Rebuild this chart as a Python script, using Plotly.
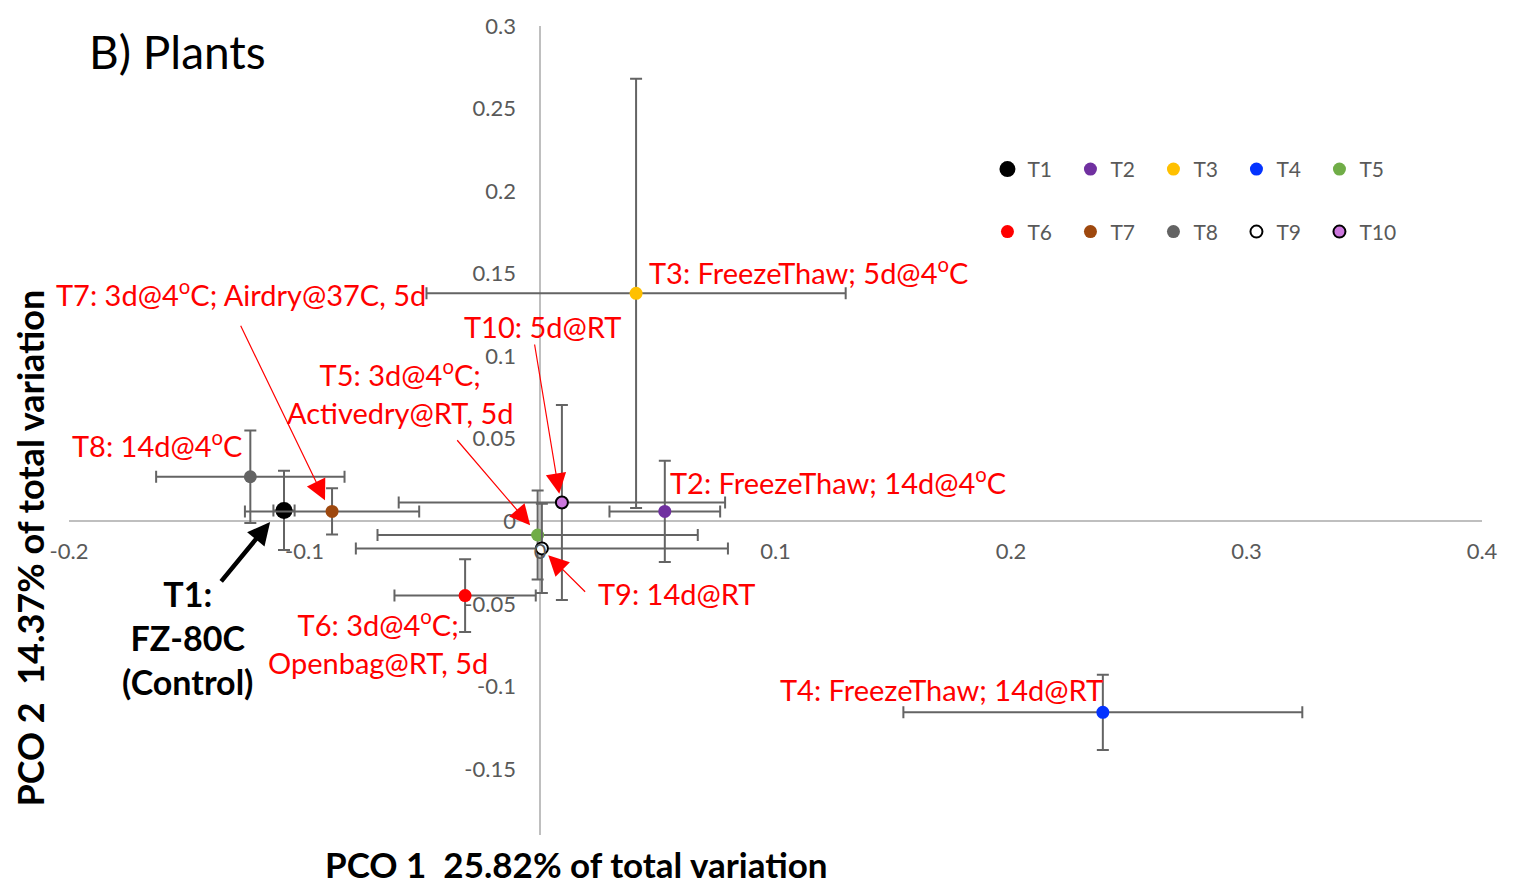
import plotly.graph_objects as go

# ---------------- data ----------------
treatments = ["T1", "T2", "T3", "T4", "T5", "T6", "T7", "T8", "T9", "T10"]
pco1 = [-0.1087, 0.0530, 0.0408, 0.2390, -0.0010, -0.0318, -0.0883, -0.1230, 0.0008, 0.0093]
pco2 = [0.0066, 0.0060, 0.1381, -0.1157, -0.0083, -0.0450, 0.0060, 0.0270, -0.0164, 0.0114]
err_pco1 = [0.0045, 0.0235, 0.0890, 0.0847, 0.0680, 0.0300, 0.0370, 0.0400, 0.0790, 0.0693]
err_pco2 = [0.0240, 0.0307, 0.1300, 0.0228, 0.0270, 0.0220, 0.0140, 0.0280, 0.0270, 0.0590]

fill_colors = ["#000000", "#7030A0", "#FFC000", "#0433FF", "#70AD47",
               "#FF0000", "#9E480E", "#636363", "#FFFFFF", "#CC77DD"]
marker_sizes = [17, 13, 13, 13, 13, 13, 13, 13, 12, 12]
outline = [0, 0, 0, 0, 0, 0, 0, 0, 2, 2]

x_tickvals = [-0.2, -0.1, 0, 0.1, 0.2, 0.3, 0.4]
x_ticktext = ["-0.2", "-0.1", "0", "0.1", "0.2", "0.3", "0.4"]
y_tickvals = [-0.15, -0.1, -0.05, 0, 0.05, 0.1, 0.15, 0.2, 0.25, 0.3]
y_ticktext = ["-0.15", "-0.1", "-0.05", "0", "0.05", "0.1", "0.15", "0.2", "0.25", "0.3"]

# labels: (text, x, y, xanchor)  -- data coordinates
label_texts = [
    "T7: 3d@4<sup>o</sup>C; Airdry@37C, 5d",
    "T3: FreezeThaw; 5d@4<sup>o</sup>C",
    "T10: 5d@RT",
    "T5: 3d@4<sup>o</sup>C;<br>Activedry@RT, 5d",
    "T8: 14d@4<sup>o</sup>C",
    "T2: FreezeThaw; 14d@4<sup>o</sup>C",
    "T9: 14d@RT",
    "T6: 3d@4<sup>o</sup>C;<br>Openbag@RT, 5d",
    "T4: FreezeThaw; 14d@RT",
]
label_x = [-0.2065, 0.0454, -0.0331, -0.0594, -0.1997, 0.0544, 0.0238, -0.0688, 0.1011]
label_y = [0.1380, 0.1518, 0.1180, 0.0786, 0.0470, 0.0247, -0.0440, -0.0732, -0.1018]
label_anchor = ["left", "left", "left", "center", "left", "left", "left", "center", "left"]

# arrows: head (x, y) and tail (ax, ay)
arrow_head_x = [-0.0913, -0.0042, 0.0082, 0.0035]
arrow_head_y = [0.0127, -0.0024, 0.0167, -0.0205]
arrow_tail_x = [-0.1274, -0.0357, -0.0024, 0.0198]
arrow_tail_y = [0.1193, 0.0500, 0.1080, -0.0436]

FONT = "Lato"
ERR_COLOR = "#646464"
x_range = [-0.2, 0.4]
y_range = [-0.19, 0.3]


def to_paper_x(v):
    return (v - x_range[0]) / (x_range[1] - x_range[0])


def to_paper_y(v):
    return (v - y_range[0]) / (y_range[1] - y_range[0])


fig = go.Figure()
for i, t in enumerate(treatments):
    fig.add_trace(go.Scatter(
        x=[pco1[i]], y=[pco2[i]], mode="markers", name=t,
        legend="legend" if i < 5 else "legend2",
        marker=dict(color=fill_colors[i], size=marker_sizes[i],
                    line=dict(color="#000000", width=outline[i])),
        error_x=dict(type="data", array=[err_pco1[i]], color=ERR_COLOR, thickness=2, width=6),
        error_y=dict(type="data", array=[err_pco2[i]], color=ERR_COLOR, thickness=2, width=6),
        cliponaxis=False,
    ))

annotations = []
for t, x, y, a in zip(label_texts, label_x, label_y, label_anchor):
    annotations.append(dict(x=to_paper_x(x), y=to_paper_y(y), xref="paper", yref="paper",
                            text=t, showarrow=False,
                            xanchor=a, yanchor="middle", align="center",
                            font=dict(family=FONT, size=29, color="#FF0000")))
for hx, hy, tx, ty in zip(arrow_head_x, arrow_head_y, arrow_tail_x, arrow_tail_y):
    annotations.append(dict(x=hx, y=hy, ax=tx, ay=ty, xref="x", yref="y", axref="x", ayref="y",
                            text="", showarrow=True, arrowhead=2, arrowsize=3.4, arrowwidth=1.2,
                            arrowcolor="#FF0000", standoff=0))
# T1 control label and arrow
annotations.append(dict(x=to_paper_x(-0.1495), y=to_paper_y(-0.0705), xref="paper", yref="paper",
                        text="<b>T1:<br>FZ-80C<br>(Control)</b>", showarrow=False,
                        xanchor="center", yanchor="middle", align="center",
                        font=dict(family=FONT, size=34, color="#000000")))
annotations.append(dict(x=-0.1146, y=-0.0004, ax=-0.1359, ay=-0.0373, xref="x", yref="y",
                        axref="x", ayref="y", text="", showarrow=True, arrowhead=2,
                        arrowsize=1, arrowwidth=4.5, arrowcolor="#000000", standoff=0))
# title and axis titles
annotations.append(dict(x=0.0127, y=0.969, xref="paper", yref="paper", text="B) Plants",
                        showarrow=False, xanchor="left", yanchor="middle",
                        font=dict(family=FONT, size=46, color="#000000")))
annotations.append(dict(x=0.359, y=-0.036, xref="paper", yref="paper",
                        text="<b>PCO 1  25.82% of total variation</b>",
                        showarrow=False, xanchor="center", yanchor="middle",
                        font=dict(family=FONT, size=35, color="#000000")))
annotations.append(dict(x=-0.0276, y=0.354, xref="paper", yref="paper",
                        text="<b>PCO 2  14.37% of total variation</b>", textangle=-90,
                        showarrow=False, xanchor="center", yanchor="middle",
                        font=dict(family=FONT, size=36, color="#000000")))

fig.update_layout(
    width=1514, height=883,
    margin=dict(l=69, r=32, t=22, b=48),
    paper_bgcolor="#FFFFFF", plot_bgcolor="#FFFFFF",
    font=dict(family=FONT, color="#595959"),
    xaxis=dict(range=x_range, showgrid=False, showline=False, zeroline=True,
               zerolinecolor="#BFBFBF", zerolinewidth=2, ticks="",
               tickvals=x_tickvals, ticktext=x_ticktext,
               tickfont=dict(family=FONT, size=22, color="#595959"),
               anchor="free", position=to_paper_y(0),
               ticklabelstandoff=15),
    yaxis=dict(range=y_range, showgrid=False, showline=False, zeroline=True,
               zerolinecolor="#BFBFBF", zerolinewidth=2, ticks="",
               tickvals=y_tickvals, ticktext=y_ticktext,
               tickfont=dict(family=FONT, size=22, color="#595959"),
               anchor="free", position=to_paper_x(0),
               ticklabelstandoff=24),
    legend=dict(orientation="h", x=0.650, y=0.8227, xanchor="left", yanchor="middle",
                entrywidth=38, font=dict(family=FONT, size=21, color="#595959"),
                bgcolor="rgba(0,0,0,0)", tracegroupgap=0),
    legend2=dict(orientation="h", x=0.650, y=0.7454, xanchor="left", yanchor="middle",
                 entrywidth=38, font=dict(family=FONT, size=21, color="#595959"),
                 bgcolor="rgba(0,0,0,0)", tracegroupgap=0),
    annotations=annotations,
    showlegend=True,
)

fig.write_html("out.html", config={"displayModeBar": False},
               post_script="document.body.style.margin='0';document.body.style.overflow='hidden';")
